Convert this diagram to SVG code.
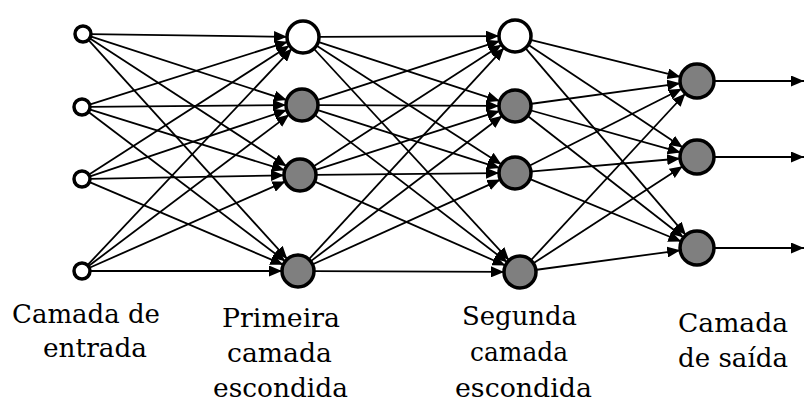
<svg xmlns="http://www.w3.org/2000/svg" width="805" height="403" viewBox="0 0 805 403">
  <style>
    .in { fill: #ffffff; stroke: #000; stroke-width: 3.5; }
    .open { fill: #ffffff; stroke: #000; stroke-width: 3.5; }
    .fill { fill: #7f7f7f; stroke: #000; stroke-width: 3.5; }
    .edge { stroke: #000; stroke-width: 1.8; fill: none; marker-end: url(#arrow); }
    .lbl { font-family: 'DejaVu Serif', 'Liberation Serif', serif; font-size: 26px; fill: #000; }
  </style>
  <defs>
    <marker id="arrow" markerUnits="userSpaceOnUse" markerWidth="14" markerHeight="11" refX="13" refY="5.5" orient="auto">
      <path d="M0,0 L13,5.5 L0,11 z" fill="#000"/>
    </marker>
  </defs>
  <rect width="805" height="403" fill="#ffffff"/>

  <g id="connectors">
    <!-- input layer to first hidden layer -->
    <line class="edge" x1="90" y1="34.1" x2="287" y2="36.8"/>
    <line class="edge" x1="89.7" y1="36.2" x2="286.8" y2="100.1"/>
    <line class="edge" x1="88.9" y1="37.8" x2="286.6" y2="166.3"/>
    <line class="edge" x1="87.7" y1="39.2" x2="287.3" y2="259.1"/>
    <line class="edge" x1="88.7" y1="104.9" x2="287.7" y2="41.8"/>
    <line class="edge" x1="89" y1="106.9" x2="286" y2="105.1"/>
    <line class="edge" x1="88.7" y1="109.1" x2="284.7" y2="170.2"/>
    <line class="edge" x1="87.6" y1="111.2" x2="285.3" y2="261.3"/>
    <line class="edge" x1="87.9" y1="175.2" x2="289.5" y2="45.6"/>
    <line class="edge" x1="88.6" y1="176.8" x2="286.8" y2="110.1"/>
    <line class="edge" x1="89" y1="178.9" x2="284" y2="175.3"/>
    <line class="edge" x1="88.4" y1="181.7" x2="283.3" y2="264.7"/>
    <line class="edge" x1="86.8" y1="265.9" x2="292" y2="48.6"/>
    <line class="edge" x1="87.6" y1="266.8" x2="289.2" y2="114.6"/>
    <line class="edge" x1="88.4" y1="268.2" x2="285.4" y2="181.4"/>
    <line class="edge" x1="89" y1="271" x2="282" y2="271"/>
    <!-- first hidden layer to second hidden layer -->
    <line class="edge" x1="318" y1="36.9" x2="499" y2="36.1"/>
    <line class="edge" x1="317.3" y1="41.6" x2="499.8" y2="101.1"/>
    <line class="edge" x1="315.6" y1="45.1" x2="501.5" y2="164.4"/>
    <line class="edge" x1="313.2" y1="48" x2="509.1" y2="260.3"/>
    <line class="edge" x1="316.3" y1="100.4" x2="499.8" y2="40.9"/>
    <line class="edge" x1="317" y1="105.1" x2="499" y2="105.9"/>
    <line class="edge" x1="316.3" y1="109.6" x2="499.8" y2="168.1"/>
    <line class="edge" x1="313.9" y1="114.1" x2="507.3" y2="262.3"/>
    <line class="edge" x1="312.6" y1="166.9" x2="501.6" y2="44.7"/>
    <line class="edge" x1="314.3" y1="170.4" x2="499.8" y2="110.9"/>
    <line class="edge" x1="315" y1="174.9" x2="499" y2="173.1"/>
    <line class="edge" x1="313.7" y1="181.1" x2="505.4" y2="265.5"/>
    <line class="edge" x1="308.2" y1="260" x2="504.1" y2="47.8"/>
    <line class="edge" x1="309.9" y1="261.9" x2="502.3" y2="115.7"/>
    <line class="edge" x1="311.7" y1="264.8" x2="500.4" y2="179.6"/>
    <line class="edge" x1="313" y1="271.1" x2="504" y2="271.9"/>
    <!-- second hidden layer to output layer -->
    <line class="edge" x1="529.6" y1="39.6" x2="680.5" y2="76.9"/>
    <line class="edge" x1="527.5" y1="44.3" x2="682.8" y2="147.6"/>
    <line class="edge" x1="524.8" y1="47.4" x2="685.9" y2="235.1"/>
    <line class="edge" x1="529.9" y1="104" x2="680.2" y2="83.3"/>
    <line class="edge" x1="529.4" y1="110" x2="680.6" y2="152.4"/>
    <line class="edge" x1="526.8" y1="115.2" x2="683.6" y2="237.5"/>
    <line class="edge" x1="528.4" y1="166.2" x2="681.8" y2="88.7"/>
    <line class="edge" x1="529.9" y1="171.7" x2="680.1" y2="158.5"/>
    <line class="edge" x1="528.9" y1="178.7" x2="681.3" y2="241.5"/>
    <line class="edge" x1="530.2" y1="261" x2="685.4" y2="93.5"/>
    <line class="edge" x1="532.6" y1="263.8" x2="682.7" y2="166.3"/>
    <line class="edge" x1="534.9" y1="270" x2="680.2" y2="250.3"/>
    <!-- outputs -->
    <line class="edge" x1="713" y1="81" x2="804" y2="81"/>
    <line class="edge" x1="713" y1="157" x2="804" y2="157"/>
    <line class="edge" x1="713" y1="248" x2="804" y2="248"/>
  </g>

  <g id="input-1"><circle class="in" cx="83" cy="34" r="8"/></g>
  <g id="input-2"><circle class="in" cx="82" cy="107" r="8"/></g>
  <g id="input-3"><circle class="in" cx="82" cy="179" r="8"/></g>
  <g id="input-4"><circle class="in" cx="82" cy="271" r="8"/></g>

  <g id="hidden1-1"><circle class="open" cx="303" cy="37" r="16"/></g>
  <g id="hidden1-2"><circle class="fill" cx="302" cy="105" r="16"/></g>
  <g id="hidden1-3"><circle class="fill" cx="300" cy="175" r="16"/></g>
  <g id="hidden1-4"><circle class="fill" cx="298" cy="271" r="16"/></g>

  <g id="hidden2-1"><circle class="open" cx="515" cy="36" r="16"/></g>
  <g id="hidden2-2"><circle class="fill" cx="515" cy="106" r="16"/></g>
  <g id="hidden2-3"><circle class="fill" cx="515" cy="173" r="16"/></g>
  <g id="hidden2-4"><circle class="fill" cx="520" cy="272" r="16"/></g>

  <g id="output-1"><circle class="fill" cx="697" cy="81" r="17"/></g>
  <g id="output-2"><circle class="fill" cx="697" cy="157" r="17"/></g>
  <g id="output-3"><circle class="fill" cx="697" cy="248" r="17"/></g>

  <g id="label-input">
    <text class="lbl" x="12" y="323" textLength="148" lengthAdjust="spacingAndGlyphs">Camada de</text>
    <text class="lbl" x="43" y="357" textLength="104" lengthAdjust="spacingAndGlyphs">entrada</text>
  </g>
  <g id="label-hidden1">
    <text class="lbl" x="222" y="327" textLength="118" lengthAdjust="spacingAndGlyphs">Primeira</text>
    <text class="lbl" x="227" y="362" textLength="105" lengthAdjust="spacingAndGlyphs">camada</text>
    <text class="lbl" x="213" y="397" textLength="135" lengthAdjust="spacingAndGlyphs">escondida</text>
  </g>
  <g id="label-hidden2">
    <text class="lbl" x="462" y="325" textLength="115" lengthAdjust="spacingAndGlyphs">Segunda</text>
    <text class="lbl" x="470" y="361" textLength="98" lengthAdjust="spacingAndGlyphs">camada</text>
    <text class="lbl" x="455" y="397" textLength="137" lengthAdjust="spacingAndGlyphs">escondida</text>
  </g>
  <g id="label-output">
    <text class="lbl" x="678" y="332" textLength="110" lengthAdjust="spacingAndGlyphs">Camada</text>
    <text class="lbl" x="678" y="367" textLength="110" lengthAdjust="spacingAndGlyphs">de saída</text>
  </g>
</svg>
